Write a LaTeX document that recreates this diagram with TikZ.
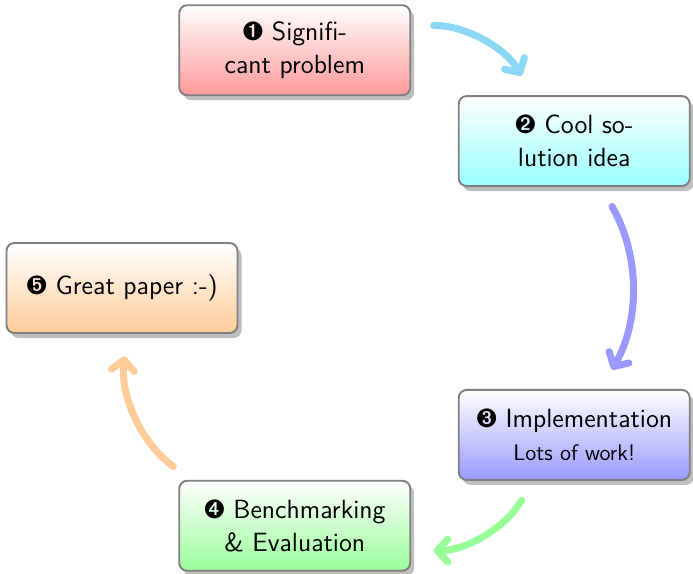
\documentclass[tikz,border=0pt]{standalone}
\usepackage{pifont}
\usetikzlibrary{arrows.meta,shadows}
\renewcommand{\familydefault}{\sfdefault}

\definecolor{skyarrow}{RGB}{140,214,246}
\newcommand{\stagefont}{\fontsize{15}{18.5}\selectfont}
\newcommand{\notefont}{\fontsize{12.8}{15}\selectfont}
\tikzstyle{stage} = [draw=gray,line width=1.1pt,rounded corners=4.5pt,
  minimum width=4.62cm,minimum height=1.8cm,align=center,font=\stagefont,
  drop shadow={shadow xshift=0.08cm,shadow yshift=-0.1cm,fill=black!25,opacity=1}]
\tikzstyle{flow} = [line width=4pt,line cap=round,
  -{Straight Barb[round,length=6pt,width=13pt]},shorten <=0.45cm,shorten >=0.45cm]

\begin{document}
\begin{tikzpicture}
\useasboundingbox (-7.44,-5.70) rectangle (6.42,5.76);
% the five stages, on a circle
\node[stage,top color=white,bottom color=red!40] (b1) at (108:5) {\ding{202} Signifi-\\cant problem};
\node[stage,top color=white,bottom color=cyan!40] (b2) at (36:5) {\ding{203} Cool so-\\lution idea};
\node[stage,top color=white,bottom color=blue!40] (b3) at (-36:5) {\ding{204} Implementation\\{\notefont Lots of work!}};
\node[stage,top color=white,bottom color=green!40] (b4) at (-108:5) {\ding{205} Benchmarking\\\& Evaluation};
\node[stage,top color=white,bottom color=orange!40] (b5) at (180:5) {\ding{206} Great paper :-)};
% arrows between them
\draw[flow,skyarrow] (b1) to[bend left=30] (b2);
\draw[flow,blue!40] (b2) to[bend left=30] (b3);
\draw[flow,green!40] (b3) to[bend left=30] (b4);
\draw[flow,orange!40] (b4) to[bend left=30] (b5);
\end{tikzpicture}
\end{document}
